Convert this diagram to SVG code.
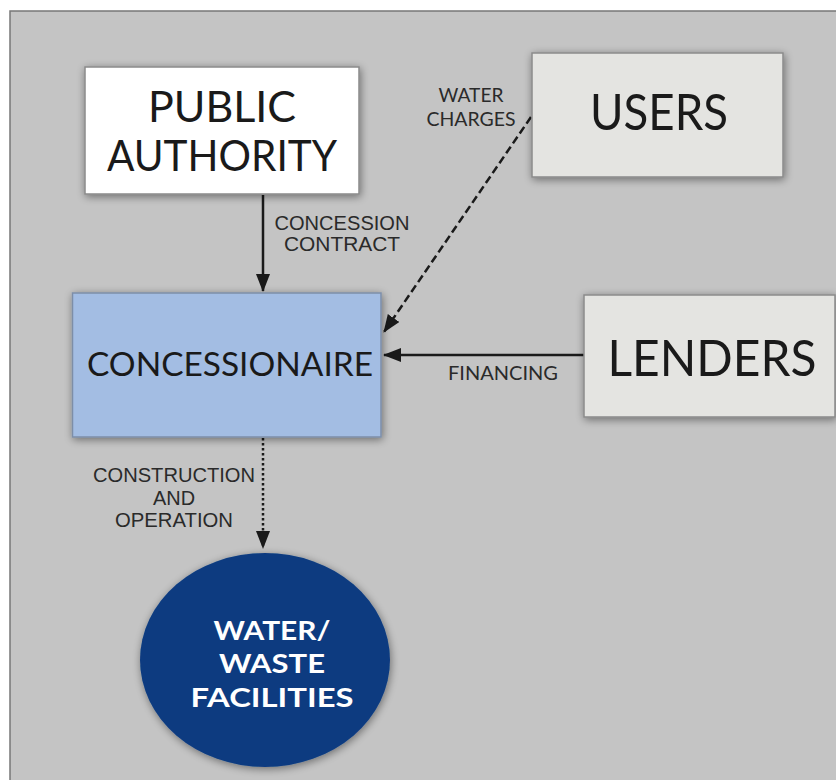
<svg xmlns="http://www.w3.org/2000/svg" width="836" height="780" viewBox="0 0 836 780">
<defs>
<filter id="sh" x="-20%" y="-20%" width="140%" height="140%">
<feGaussianBlur in="SourceAlpha" stdDeviation="4"/>
<feOffset dx="1" dy="2" result="b"/>
<feComponentTransfer><feFuncA type="linear" slope="0.45"/></feComponentTransfer>
<feMerge><feMergeNode/><feMergeNode in="SourceGraphic"/></feMerge>
</filter>
<marker id="ah" viewBox="0 0 18 14" refX="17" refY="7" markerWidth="18" markerHeight="14" markerUnits="userSpaceOnUse" orient="auto">
<path d="M0,0 L18,7 L0,14 z" fill="#1a1a1a"/>
</marker>
</defs>
<style>
.big{font-family:Lato,"Open Sans","Liberation Sans",sans-serif;fill:#1a1a1a;text-anchor:middle}
.lbl{font-family:"Liberation Sans",Arial,sans-serif;font-size:19.5px;fill:#2a2a2a;text-anchor:middle}
.glbl{font-family:Lato,"Liberation Sans",sans-serif;font-size:19px;fill:#2a2a2a;text-anchor:middle}
.box{stroke:#8a8a8a;stroke-width:1.5}
.con{stroke:#1a1a1a;stroke-width:2.5;fill:none}
.fac{font-family:Lato,"Open Sans","Liberation Sans",sans-serif;font-weight:bold;font-size:27px;fill:#ffffff;text-anchor:middle}
</style>
<rect x="0" y="0" width="836" height="780" fill="#ffffff"/>
<rect x="10" y="11" width="840" height="790" fill="#c4c4c4" stroke="#777" stroke-width="1.5"/>

<g id="connectors">
<line class="con" x1="263" y1="195" x2="263" y2="291" marker-end="url(#ah)"/>
<line class="con" x1="531" y1="117" x2="384" y2="332" stroke-dasharray="8,4" marker-end="url(#ah)"/>
<line class="con" x1="584" y1="355" x2="384" y2="355" marker-end="url(#ah)"/>
<line class="con" x1="263" y1="438" x2="263" y2="548" stroke-dasharray="2.5,2.5" marker-end="url(#ah)"/>
</g>

<g id="public-authority">
<rect class="box" x="85" y="67" width="274" height="127" fill="#ffffff" filter="url(#sh)"/>
<text class="big" x="222" y="122" font-size="42" textLength="148" lengthAdjust="spacingAndGlyphs">PUBLIC</text>
<text class="big" x="222" y="171" font-size="42" textLength="230" lengthAdjust="spacingAndGlyphs">AUTHORITY</text>
</g>

<g id="users">
<rect class="box" x="532" y="53" width="251" height="124" fill="#e4e4e1" filter="url(#sh)"/>
<text class="big" x="659" y="130" font-size="51" textLength="138" lengthAdjust="spacingAndGlyphs">USERS</text>
</g>

<g id="lenders">
<rect class="box" x="584" y="295" width="251" height="122" fill="#e4e4e1" filter="url(#sh)"/>
<text class="big" x="712" y="376" font-size="51" textLength="209" lengthAdjust="spacingAndGlyphs">LENDERS</text>
</g>

<g id="concessionaire">
<rect x="72.5" y="293" width="308.5" height="144" fill="#a3bde3" stroke="#7d8ea8" stroke-width="1.5" filter="url(#sh)"/>
<text class="big" x="230" y="376" font-size="33" textLength="286" lengthAdjust="spacingAndGlyphs">CONCESSIONAIRE</text>
</g>

<g id="facilities">
<ellipse cx="265" cy="660" rx="125" ry="107" fill="#0a3b80" filter="url(#sh)"/>
<text class="fac" x="272" y="640" textLength="117" lengthAdjust="spacingAndGlyphs">WATER/</text>
<text class="fac" x="272" y="673" textLength="106" lengthAdjust="spacingAndGlyphs">WASTE</text>
<text class="fac" x="272" y="707" textLength="163" lengthAdjust="spacingAndGlyphs">FACILITIES</text>
</g>

<g id="labels">
<text class="lbl" x="342" y="230" textLength="135" lengthAdjust="spacingAndGlyphs">CONCESSION</text>
<text class="lbl" x="342" y="251" textLength="116" lengthAdjust="spacingAndGlyphs">CONTRACT</text>
<text class="glbl" x="471" y="102" textLength="65" lengthAdjust="spacingAndGlyphs">WATER</text>
<text class="glbl" x="471" y="126" textLength="89" lengthAdjust="spacingAndGlyphs">CHARGES</text>
<text class="glbl" x="503" y="380" textLength="110" lengthAdjust="spacingAndGlyphs">FINANCING</text>
<text class="lbl" x="174" y="482" textLength="162" lengthAdjust="spacingAndGlyphs">CONSTRUCTION</text>
<text class="lbl" x="174" y="505" textLength="42" lengthAdjust="spacingAndGlyphs">AND</text>
<text class="lbl" x="174" y="527" textLength="118" lengthAdjust="spacingAndGlyphs">OPERATION</text>
</g>
</svg>
